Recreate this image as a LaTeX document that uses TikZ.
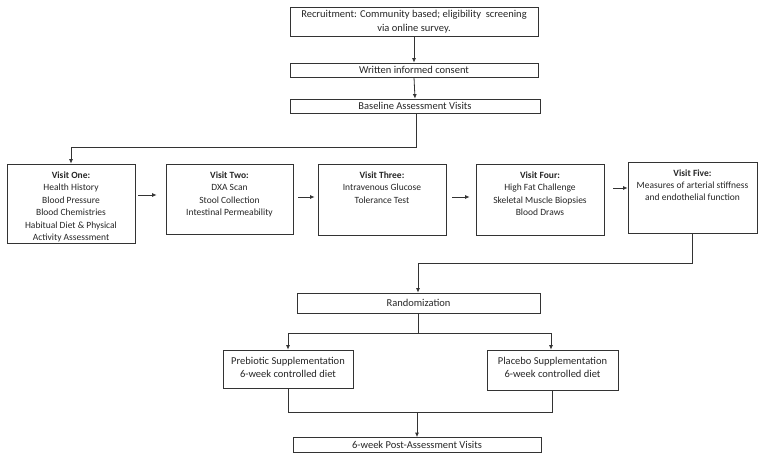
\documentclass[tikz,border=0pt]{standalone}
\usepackage{fontspec}
\setmainfont{Carlito}
\usetikzlibrary{arrows.meta,calc}
\begin{document}
\begin{tikzpicture}[x=1pt,y=-1pt,
  box/.style={draw=black!80,line width=0.7pt,rectangle,inner sep=0pt},
  txt/.style={align=center,inner sep=0pt,font=\fontsize{10.5}{14}\selectfont,text=black!85},
  vtxt/.style={align=center,inner sep=0pt,font=\fontsize{9.5}{12.4}\selectfont,text=black!85},
  ln/.style={draw=black!80,line width=0.8pt},
  arr/.style={ln,-{Latex[length=4.5pt,width=4pt]}}]
\useasboundingbox (0,0) rectangle (764,461);
% top chain
\node[box,minimum width=248pt,minimum height=29pt] (rec) at (414,21.5) {};
\node[txt] at (rec.center) {Recruitment: Community based; eligibility\ \ screening\\via online survey.};
\node[box,minimum width=248pt,minimum height=14pt,txt] (con) at (414,70) {Written informed consent};
\node[box,minimum width=250pt,minimum height=14pt,txt] (base) at (415,106) {Baseline Assessment Visits};
\draw[arr] (rec.south) -- (con.north);
\draw[arr] (con.south) -- (base.north);
% visits
\node[box,minimum width=128pt,minimum height=79pt] (v1) at (71,203.5) {};
\node[vtxt,anchor=north] at ([yshift=-8pt]v1.north) {\textbf{Visit One:}\\Health History\\Blood Pressure\\Blood Chemistries\\Habitual Diet \& Physical\\Activity Assessment};
\node[box,minimum width=127pt,minimum height=70pt] (v2) at (229.5,199) {};
\node[vtxt,anchor=north] at ([yshift=-8pt]v2.north) {\textbf{Visit Two:}\\DXA Scan\\Stool Collection\\Intestinal Permeability};
\node[box,minimum width=128pt,minimum height=71pt] (v3) at (382,199.5) {};
\node[vtxt,anchor=north] at ([yshift=-8pt]v3.north) {\textbf{Visit Three:}\\Intravenous Glucose\\Tolerance Test};
\node[box,minimum width=128pt,minimum height=71pt] (v4) at (540,199.5) {};
\node[vtxt,anchor=north] at ([yshift=-8pt]v4.north) {\textbf{Visit Four:}\\High Fat Challenge\\Skeletal Muscle Biopsies\\Blood Draws};
\node[box,minimum width=129pt,minimum height=71pt] (v5) at (692.5,197.5) {};
\node[vtxt,anchor=north] at ([yshift=-7.5pt]v5.north) {\textbf{Visit Five:}\\Measures of arterial stiffness\\and endothelial function};
\coordinate (bj) at ($(base.south)+(1,34)$);
\draw[arr] ([xshift=1pt]base.south) -- (bj) -| (v1.north);
\draw[arr,shorten <=3pt,shorten >=9pt] ([yshift=8.5pt]v1.east) -- ([yshift=4pt]v2.west);
\draw[arr,shorten <=5pt,shorten >=3pt] ([yshift=2pt]v2.east) -- ([yshift=2.5pt]v3.west);
\draw[arr,shorten <=6pt,shorten >=6pt] ([yshift=2.5pt]v3.east) -- ([yshift=2.5pt]v4.west);
\draw[arr,shorten <=9pt] ([yshift=11.5pt]v4.east) -- ([yshift=9.5pt]v5.west);
% randomization
\node[box,minimum width=243pt,minimum height=20pt,txt] (rand) at (418.5,303) {Randomization};
\coordinate (vj) at ($(v5.south)+(0,30)$);
\draw[arr] (v5.south) -- (vj) -| ([xshift=-0.5pt]rand.north);
\node[box,minimum width=130pt,minimum height=38pt] (pre) at (288,369) {};
\node[txt,anchor=north,font=\fontsize{10.5}{13}\selectfont] at ([yshift=-7pt]pre.north) {Prebiotic Supplementation\\6-week controlled diet};
\node[box,minimum width=131pt,minimum height=40pt] (plc) at (552.5,370) {};
\node[txt,anchor=north,font=\fontsize{10.5}{13}\selectfont] at ([yshift=-7pt]plc.north) {Placebo Supplementation\\6-week controlled diet};
\coordinate (rj) at ($(rand.south)+(-0.5,20)$);
\draw[ln] ([xshift=-0.5pt]rand.south) -- (rj);
\draw[arr] (rj) -| (pre.north);
\draw[arr] (rj) -| ([xshift=-1.5pt]plc.north);
% post
\node[box,minimum width=248pt,minimum height=15pt,txt] (post) at (417,445) {6-week Post-Assessment Visits};
\coordinate (pj) at ($(pre.south)+(0,24)$);
\draw[ln] (pre.south) -- (pj) -| (plc.south);
\draw[arr] (pj -| post.north) -- (post.north);
\end{tikzpicture}
\end{document}
